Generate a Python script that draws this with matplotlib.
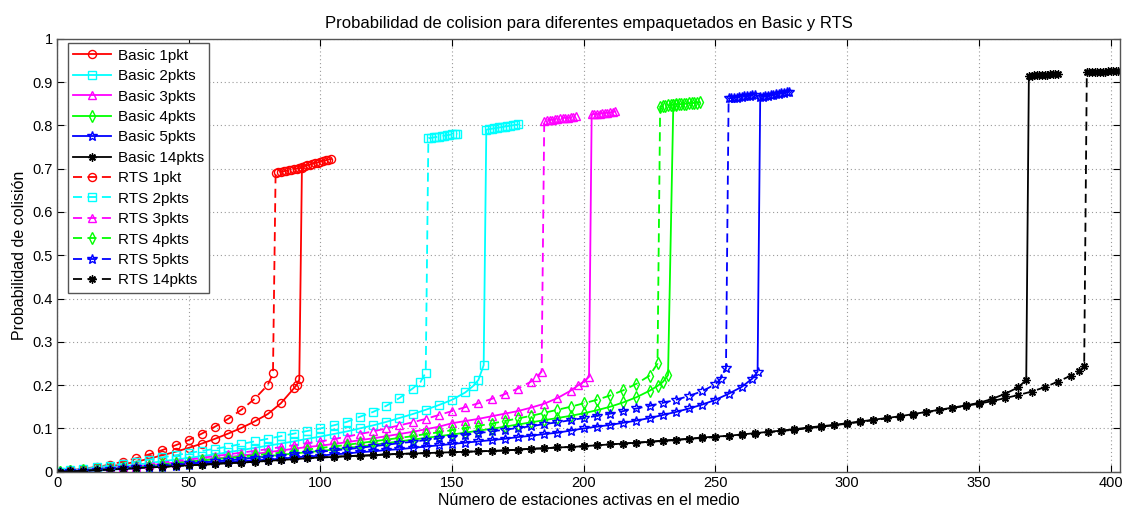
import matplotlib
matplotlib.use("Agg")
import matplotlib.pyplot as plt

plt.rcParams['font.family'] = ['Liberation Sans', 'DejaVu Sans']

title = "Probabilidad de colision para diferentes empaquetados en Basic y RTS"
xlabel = "Número de estaciones activas en el medio"
ylabel = "Probabilidad de colisión"

x_ticks = [0, 50, 100, 150, 200, 250, 300, 350, 400]
y_ticks = [0, 0.1, 0.2, 0.3, 0.4, 0.5, 0.6, 0.7, 0.8, 0.9, 1]
y_ticklabels = ["0", "0.1", "0.2", "0.3", "0.4", "0.5", "0.6", "0.7", "0.8", "0.9", "1"]

# ---------------- Basic 1pkt ----------------
basic1_x_low = [1, *range(5, 91, 5), 91, 92]
basic1_y_low = [0.000, 0.002, 0.005, 0.008, 0.012, 0.017, 0.023, 0.030, 0.038, 0.046, 0.055,
                0.065, 0.076, 0.088, 0.101, 0.116, 0.133, 0.158, 0.193, 0.200, 0.213]
basic1_x_top = list(range(93, 105))
basic1_y_top = [0.704, 0.706, 0.708, 0.709, 0.711, 0.713, 0.714, 0.716, 0.718, 0.719, 0.721, 0.722]

# ---------------- RTS 1pkt ----------------
rts1_x_low = [1, *range(5, 81, 5), 82]
rts1_y_low = [0.000, 0.003, 0.007, 0.011, 0.016, 0.023, 0.031, 0.040, 0.050, 0.061, 0.073,
              0.088, 0.104, 0.122, 0.143, 0.168, 0.200, 0.227]
rts1_x_top = list(range(83, 94))
rts1_y_top = [0.690, 0.691, 0.692, 0.694, 0.695, 0.696, 0.697, 0.699, 0.700, 0.701, 0.702]

# ---------------- Basic 2pkts ----------------
basic2_x_low = [1, *range(5, 156, 5), 158, 160, 162]
basic2_y_low = [0.000, 0.002, 0.004, 0.007, 0.010, 0.013, 0.016, 0.020, 0.024, 0.028, 0.032,
                0.036, 0.040, 0.045, 0.050, 0.055, 0.060, 0.065, 0.070, 0.076, 0.081,
                0.087, 0.093, 0.100, 0.107, 0.115, 0.124, 0.133, 0.143, 0.154, 0.166,
                0.183, 0.198, 0.212, 0.246]
basic2_x_top = list(range(163, 176))
basic2_y_top = [0.790, 0.791, 0.792, 0.793, 0.794, 0.795, 0.796, 0.797, 0.798, 0.799, 0.800, 0.801, 0.802]

# ---------------- RTS 2pkts ----------------
rts2_x_low = [1, *range(5, 136, 5), 138, 140]
rts2_y_low = [0.000, 0.003, 0.006, 0.010, 0.014, 0.018, 0.023, 0.028, 0.033, 0.038, 0.043,
              0.048, 0.053, 0.058, 0.064, 0.070, 0.076, 0.082, 0.088, 0.094, 0.100,
              0.107, 0.115, 0.127, 0.138, 0.152, 0.170, 0.192, 0.207, 0.229]
rts2_x_top = list(range(141, 153))
rts2_y_top = [0.770, 0.771, 0.772, 0.773, 0.774, 0.775, 0.776, 0.777, 0.778, 0.779, 0.780, 0.781]

# ---------------- Basic 3pkts ----------------
basic3_x_low = [1, *range(5, 196, 5), 198, 200, 202]
basic3_y_low = [0.000, 0.001, 0.003, 0.005, 0.007, 0.010, 0.012, 0.015, 0.018, 0.021, 0.024,
                0.027, 0.030, 0.034, 0.037, 0.041, 0.045, 0.049, 0.053, 0.057, 0.060,
                0.064, 0.068, 0.073, 0.077, 0.082, 0.087, 0.092, 0.098, 0.104, 0.112,
                0.117, 0.122, 0.128, 0.134, 0.140, 0.148, 0.157, 0.170, 0.187,
                0.200, 0.208, 0.219]
basic3_x_top = list(range(203, 213))
basic3_y_top = [0.825, 0.826, 0.826, 0.827, 0.828, 0.829, 0.829, 0.830, 0.831, 0.832]

# ---------------- RTS 3pkts ----------------
rts3_x_low = [1, *range(5, 181, 5), 182, 184]
rts3_y_low = [0.000, 0.002, 0.004, 0.006, 0.009, 0.012, 0.015, 0.018, 0.021, 0.025, 0.028,
              0.032, 0.036, 0.040, 0.044, 0.048, 0.052, 0.057, 0.061, 0.066, 0.070,
              0.075, 0.081, 0.087, 0.093, 0.100, 0.107, 0.114, 0.122, 0.131, 0.140,
              0.149, 0.158, 0.168, 0.179, 0.192, 0.208, 0.218, 0.231]
rts3_x_top = list(range(185, 198))
rts3_y_top = [0.811, 0.812, 0.813, 0.813, 0.814, 0.815, 0.816, 0.817, 0.818, 0.818, 0.819, 0.820, 0.821]

# ---------------- Basic 4pkts ----------------
basic4_x_low = [1, *range(5, 226, 5), 228, 230, 232]
basic4_y_low = [0.000, 0.001, 0.002, 0.004, 0.006, 0.008, 0.010, 0.012, 0.014, 0.017, 0.019,
                0.022, 0.024, 0.027, 0.030, 0.033, 0.036, 0.039, 0.042, 0.045, 0.048,
                0.051, 0.055, 0.058, 0.062, 0.066, 0.070, 0.074, 0.078, 0.082, 0.086,
                0.090, 0.095, 0.099, 0.104, 0.109, 0.114, 0.119, 0.124, 0.129, 0.135,
                0.142, 0.150, 0.160, 0.172, 0.187, 0.198, 0.207, 0.223]
basic4_x_top = list(range(234, 245))
basic4_y_top = [0.848, 0.848, 0.849, 0.849, 0.850, 0.850, 0.851, 0.851, 0.852, 0.852, 0.853]

# ---------------- RTS 4pkts ----------------
rts4_x_low = [1, *range(5, 226, 5), 228]
rts4_y_low = [0.000, 0.001, 0.003, 0.005, 0.007, 0.009, 0.012, 0.014, 0.017, 0.020, 0.023,
              0.026, 0.029, 0.032, 0.035, 0.038, 0.041, 0.044, 0.048, 0.051, 0.055,
              0.058, 0.062, 0.066, 0.070, 0.074, 0.078, 0.082, 0.087, 0.091, 0.096,
              0.101, 0.106, 0.111, 0.117, 0.123, 0.129, 0.136, 0.143, 0.150, 0.158,
              0.166, 0.176, 0.188, 0.203, 0.222, 0.250]
rts4_x_top = list(range(229, 236))
rts4_y_top = [0.843, 0.844, 0.845, 0.846, 0.847, 0.848, 0.849]

# ---------------- Basic 5pkts ----------------
basic5_x_low = [1, *range(5, 261, 5), 264, 266]
basic5_y_low = [0.000, 0.001, 0.002, 0.003, 0.005, 0.006, 0.008, 0.010, 0.012, 0.014, 0.016,
                0.018, 0.020, 0.022, 0.024, 0.026, 0.028, 0.030, 0.033, 0.035, 0.037,
                0.040, 0.042, 0.045, 0.047, 0.050, 0.052, 0.055, 0.058, 0.061, 0.064,
                0.067, 0.070, 0.073, 0.076, 0.080, 0.083, 0.087, 0.090, 0.095, 0.100,
                0.104, 0.108, 0.113, 0.118, 0.124, 0.131, 0.138, 0.146, 0.155, 0.166,
                0.180, 0.196, 0.215, 0.231]
basic5_x_top = list(range(267, 279))
basic5_y_top = [0.865, 0.866, 0.867, 0.868, 0.869, 0.870, 0.872, 0.873, 0.874, 0.875, 0.876, 0.878]

# ---------------- RTS 5pkts ----------------
rts5_x_low = [1, *range(5, 251, 5), 252, 254]
rts5_y_low = [0.000, 0.001, 0.002, 0.004, 0.006, 0.008, 0.010, 0.012, 0.014, 0.016, 0.019,
              0.021, 0.024, 0.026, 0.029, 0.032, 0.034, 0.037, 0.040, 0.043, 0.046,
              0.049, 0.052, 0.055, 0.059, 0.062, 0.066, 0.069, 0.073, 0.077, 0.081,
              0.085, 0.089, 0.093, 0.097, 0.101, 0.105, 0.110, 0.114, 0.119, 0.124,
              0.129, 0.134, 0.140, 0.146, 0.152, 0.159, 0.166, 0.175, 0.186, 0.202,
              0.215, 0.239]
rts5_x_top = list(range(255, 266))
rts5_y_top = [0.862, 0.863, 0.864, 0.864, 0.865, 0.866, 0.867, 0.867, 0.868, 0.869, 0.870]

# ---------------- Basic 14pkts ----------------
basic14_x_low = [1, *range(5, 366, 5), 368]
basic14_y_low = [0.000, 0.001, 0.002, 0.004, 0.005, 0.007, 0.008, 0.010, 0.011, 0.013, 0.015,
                 0.016, 0.018, 0.020, 0.021, 0.023, 0.025, 0.027, 0.029, 0.031, 0.033,
                 0.034, 0.036, 0.037, 0.038, 0.040, 0.041, 0.042, 0.043, 0.044, 0.045,
                 0.046, 0.047, 0.048, 0.049, 0.051, 0.053, 0.054, 0.056, 0.057, 0.059,
                 0.061, 0.063, 0.065, 0.067, 0.069, 0.072, 0.074, 0.076, 0.079, 0.081,
                 0.083, 0.086, 0.089, 0.092, 0.095, 0.098, 0.102, 0.105, 0.108, 0.112,
                 0.116, 0.120, 0.124, 0.128, 0.133, 0.138, 0.143, 0.148, 0.153, 0.159,
                 0.168, 0.180, 0.195, 0.212]
basic14_x_top = list(range(369, 381))
basic14_y_top = [0.915, 0.915, 0.916, 0.916, 0.916, 0.917, 0.917, 0.917, 0.918, 0.918, 0.918, 0.919]

# ---------------- RTS 14pkts ----------------
rts14_x_low = [1, *range(5, 386, 5), 388, 390]
rts14_y_low = [0.000, 0.001, 0.002, 0.004, 0.005, 0.007, 0.008, 0.010, 0.011, 0.013, 0.015,
               0.016, 0.018, 0.020, 0.021, 0.023, 0.025, 0.027, 0.029, 0.031, 0.033,
               0.034, 0.036, 0.037, 0.038, 0.040, 0.041, 0.042, 0.043, 0.044, 0.045,
               0.046, 0.047, 0.048, 0.049, 0.051, 0.053, 0.054, 0.056, 0.057, 0.059,
               0.061, 0.063, 0.065, 0.067, 0.069, 0.071, 0.073, 0.076, 0.078, 0.080,
               0.083, 0.085, 0.088, 0.091, 0.094, 0.097, 0.100, 0.104, 0.107, 0.111,
               0.115, 0.119, 0.123, 0.127, 0.132, 0.137, 0.142, 0.147, 0.152, 0.157,
               0.163, 0.170, 0.177, 0.185, 0.195, 0.208, 0.222, 0.232, 0.243]
rts14_x_top = list(range(391, 404))
rts14_y_top = [0.922, 0.922, 0.923, 0.923, 0.923, 0.924, 0.924, 0.924, 0.925, 0.925, 0.925, 0.926, 0.926]

series = [
    ("Basic 1pkt", basic1_x_low + basic1_x_top, basic1_y_low + basic1_y_top, "#ff0000", "o", "-", 5.8),
    ("Basic 2pkts", basic2_x_low + basic2_x_top, basic2_y_low + basic2_y_top, "#00ffff", "s", "-", 5.8),
    ("Basic 3pkts", basic3_x_low + basic3_x_top, basic3_y_low + basic3_y_top, "#ff00ff", "^", "-", 5.8),
    ("Basic 4pkts", basic4_x_low + basic4_x_top, basic4_y_low + basic4_y_top, "#00ff00", "d", "-", 5.8),
    ("Basic 5pkts", basic5_x_low + basic5_x_top, basic5_y_low + basic5_y_top, "#0000ff", "*", "-", 7.5),
    ("Basic 14pkts", basic14_x_low + basic14_x_top, basic14_y_low + basic14_y_top, "#000000", (8, 2, 0), "-", 5.8),
    ("RTS 1pkt", rts1_x_low + rts1_x_top, rts1_y_low + rts1_y_top, "#ff0000", "o", "--", 5.8),
    ("RTS 2pkts", rts2_x_low + rts2_x_top, rts2_y_low + rts2_y_top, "#00ffff", "s", "--", 5.8),
    ("RTS 3pkts", rts3_x_low + rts3_x_top, rts3_y_low + rts3_y_top, "#ff00ff", "^", "--", 5.8),
    ("RTS 4pkts", rts4_x_low + rts4_x_top, rts4_y_low + rts4_y_top, "#00ff00", "d", "--", 5.8),
    ("RTS 5pkts", rts5_x_low + rts5_x_top, rts5_y_low + rts5_y_top, "#0000ff", "*", "--", 7.5),
    ("RTS 14pkts", rts14_x_low + rts14_x_top, rts14_y_low + rts14_y_top, "#000000", (8, 2, 0), "--", 5.8),
]

fig = plt.figure(figsize=(11.3, 5.08), dpi=100)
ax = fig.add_axes([57 / 1130, 36.3 / 508, 1063 / 1130, 433 / 508])

for label, xs, ys, color, marker, ls, ms in series:
    assert len(xs) == len(ys), label
    ax.plot(xs, ys, linestyle=ls, color=color, marker=marker, markersize=ms,
            markerfacecolor="none", markeredgecolor=color, markeredgewidth=1.0,
            linewidth=1.3, label=label, dashes=(5, 3) if ls == "--" else (None, None))

ax.set_xlim(0, 403.6)
ax.set_ylim(0, 1)
ax.set_xticks(x_ticks)
ax.set_yticks(y_ticks)
ax.set_yticklabels(y_ticklabels)
ax.tick_params(direction="in", top=True, right=True, labelsize=10.5, length=5, width=0.8, pad=3)
ax.grid(True, linestyle=(0, (1, 2.5)), color="#9a9a9a", linewidth=0.8)
for sp in ax.spines.values():
    sp.set_color("#555555")
    sp.set_linewidth(1.0)

ax.set_title(title, fontsize=12, pad=8)
ax.set_xlabel(xlabel, fontsize=11.5, labelpad=2)
ax.set_ylabel(ylabel, fontsize=11.5, labelpad=4)

leg = ax.legend(loc="upper left", bbox_to_anchor=(0.0103, 0.989), borderaxespad=0,
                fontsize=11, labelspacing=0.42, handlelength=2.5, handletextpad=0.4,
                borderpad=0.35, fancybox=False, framealpha=1, edgecolor="#555555")
leg.get_frame().set_linewidth(1.0)

fig.savefig("out.png", dpi=100)
